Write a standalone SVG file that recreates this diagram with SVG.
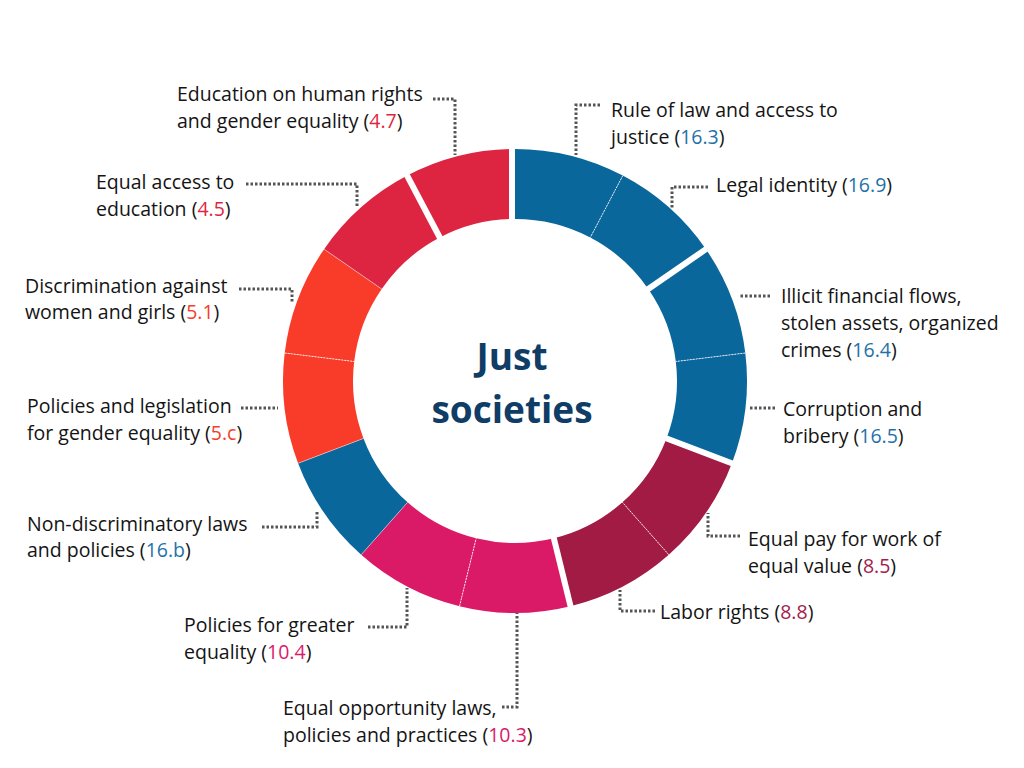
<svg xmlns="http://www.w3.org/2000/svg" width="1024" height="768" viewBox="0 0 1024 768">
<style>
.lbl{font-family:"Open Sans","Noto Sans","Liberation Sans",sans-serif;font-size:19.5px;fill:#141414}
.c4{fill:#DD2541}.c5{fill:#F93B2A}.c8{fill:#A11B44}.c10{fill:#DB1A67}.c16{fill:#0A679C}
.n4{fill:#E0263F}.n5{fill:#F63D2B}.n8{fill:#A3204B}.n10{fill:#D91C6A}.n16{fill:#1F72A8}
.conn{fill:none;stroke:#555;stroke-width:3;stroke-dasharray:2.5 2}
.gap{stroke:#fff;stroke-width:6}
.thin{stroke:#fff;stroke-width:1;stroke-dasharray:2 1;opacity:0.85}
.faint{stroke:#fff;stroke-width:1;opacity:0.45}
.center{font-family:"Open Sans","Noto Sans","Liberation Sans",sans-serif;font-weight:bold;font-size:37px;fill:#0F3D66;text-anchor:middle}
</style>
<rect width="1024" height="768" fill="#fff"/>

<g id="seg-16-3">
<path class="c16" d="M515,149 A232,232 0 0 1 622.8,175.6 L590.3,237.5 A162,162 0 0 0 515,219 Z"/>
<text class="lbl" x="611" y="117">Rule of law and access to</text>
<text class="lbl" x="611" y="144">justice (<tspan class="n16">16.3</tspan>)</text>
</g>
<g id="seg-16-9">
<path class="c16" d="M622.8,175.6 A232,232 0 0 1 705.9,249.2 L648.3,289 A162,162 0 0 0 590.3,237.5 Z"/>
<text class="lbl" x="716" y="192">Legal identity (<tspan class="n16">16.9</tspan>)</text>
</g>
<g id="seg-16-4">
<path class="c16" d="M705.9,249.2 A232,232 0 0 1 745.3,353 L675.8,361.5 A162,162 0 0 0 648.3,289 Z"/>
<text class="lbl" x="781" y="303">Illicit financial flows,</text>
<text class="lbl" x="781" y="330">stolen assets, organized</text>
<text class="lbl" x="781" y="357">crimes (<tspan class="n16">16.4</tspan>)</text>
</g>
<g id="seg-16-5">
<path class="c16" d="M745.3,353 A232,232 0 0 1 731.9,463.3 L666.5,438.4 A162,162 0 0 0 675.8,361.5 Z"/>
<text class="lbl" x="783" y="416">Corruption and</text>
<text class="lbl" x="783" y="443">bribery (<tspan class="n16">16.5</tspan>)</text>
</g>
<g id="seg-8-5">
<path class="c8" d="M731.9,463.3 A232,232 0 0 1 668.8,554.7 L622.4,502.3 A162,162 0 0 0 666.5,438.4 Z"/>
<text class="lbl" x="748" y="546">Equal pay for work of</text>
<text class="lbl" x="748" y="573">equal value (<tspan class="n8">8.5</tspan>)</text>
</g>
<g id="seg-8-8">
<path class="c8" d="M668.8,554.7 A232,232 0 0 1 570.5,606.2 L553.8,538.3 A162,162 0 0 0 622.4,502.3 Z"/>
<text class="lbl" x="660" y="619">Labor rights (<tspan class="n8">8.8</tspan>)</text>
</g>
<g id="seg-10-3">
<path class="c10" d="M570.5,606.2 A232,232 0 0 1 459.5,606.2 L476.2,538.3 A162,162 0 0 0 553.8,538.3 Z"/>
<text class="lbl" x="283" y="715">Equal opportunity laws,</text>
<text class="lbl" x="283" y="742">policies and practices (<tspan class="n10">10.3</tspan>)</text>
</g>
<g id="seg-10-4">
<path class="c10" d="M459.5,606.2 A232,232 0 0 1 361.2,554.7 L407.6,502.3 A162,162 0 0 0 476.2,538.3 Z"/>
<text class="lbl" x="184" y="632">Policies for greater</text>
<text class="lbl" x="184" y="659">equality (<tspan class="n10">10.4</tspan>)</text>
</g>
<g id="seg-16-b">
<path class="c16" d="M361.2,554.7 A232,232 0 0 1 298.1,463.3 L363.5,438.4 A162,162 0 0 0 407.6,502.3 Z"/>
<text class="lbl" x="27" y="531">Non-discriminatory laws</text>
<text class="lbl" x="27" y="557">and policies (<tspan class="n16">16.b</tspan>)</text>
</g>
<g id="seg-5-c">
<path class="c5" d="M298.1,463.3 A232,232 0 0 1 284.7,353 L354.2,361.5 A162,162 0 0 0 363.5,438.4 Z"/>
<text class="lbl" x="27" y="413">Policies and legislation</text>
<text class="lbl" x="27" y="440">for gender equality (<tspan class="n5">5.c</tspan>)</text>
</g>
<g id="seg-5-1">
<path class="c5" d="M284.7,353 A232,232 0 0 1 324.1,249.2 L381.7,289 A162,162 0 0 0 354.2,361.5 Z"/>
<text class="lbl" x="25" y="293">Discrimination against</text>
<text class="lbl" x="25" y="319">women and girls (<tspan class="n5">5.1</tspan>)</text>
</g>
<g id="seg-4-5">
<path class="c4" d="M324.1,249.2 A232,232 0 0 1 407.2,175.6 L439.7,237.5 A162,162 0 0 0 381.7,289 Z"/>
<text class="lbl" x="96" y="189">Equal access to</text>
<text class="lbl" x="96" y="216">education (<tspan class="n4">4.5</tspan>)</text>
</g>
<g id="seg-4-7">
<path class="c4" d="M407.2,175.6 A232,232 0 0 1 515,149 L515,219 A162,162 0 0 0 439.7,237.5 Z"/>
<text class="lbl" x="177" y="101">Education on human rights</text>
<text class="lbl" x="177" y="128">and gender equality (<tspan class="n4">4.7</tspan>)</text>
</g>

<g id="separators">
<line class="gap" x1="512" y1="144" x2="512" y2="224"/>
<line class="gap" x1="709.2" y1="246.9" x2="645" y2="291.3"/>
<line class="gap" x1="735.7" y1="464.7" x2="662.8" y2="437"/>
<line class="gap" x1="571.5" y1="610.1" x2="552.9" y2="534.4"/>
<line class="gap" x1="405.3" y1="172.1" x2="441.6" y2="241"/>
<line class="thin" x1="622.8" y1="175.6" x2="590.3" y2="237.5"/>
<line class="thin" x1="745.3" y1="353" x2="675.8" y2="361.5"/>
<line class="thin" x1="668.8" y1="554.7" x2="622.4" y2="502.3"/>
<line class="thin" x1="459.5" y1="606.2" x2="476.2" y2="538.3"/>
<line class="thin" x1="284.7" y1="353" x2="354.2" y2="361.5"/>
<line class="faint" x1="361.2" y1="554.7" x2="407.6" y2="502.3"/>
<line class="faint" x1="298.1" y1="463.3" x2="363.5" y2="438.4"/>
<line class="faint" x1="324.1" y1="249.2" x2="381.7" y2="289"/>
</g>

<g id="connectors">
<path class="conn" d="M433,99 H455 V155"/>
<path class="conn" d="M600,105 H576 V155"/>
<path class="conn" d="M246,184 H357 V207"/>
<path class="conn" d="M708,187 H672 V208"/>
<path class="conn" d="M239,289 H292 V303"/>
<path class="conn" d="M770,296 H739"/>
<path class="conn" d="M241,408 H278"/>
<path class="conn" d="M775,408 H750"/>
<path class="conn" d="M262,527 H317 V510"/>
<path class="conn" d="M740,536 H708 V513"/>
<path class="conn" d="M368,627 H407 V588"/>
<path class="conn" d="M655,611 H620 V590"/>
<path class="conn" d="M502,707 H517 V613"/>
</g>

<g id="center-title">
<text class="center" x="512" y="370">Just</text>
<text class="center" x="512" y="423">societies</text>
</g>
</svg>
